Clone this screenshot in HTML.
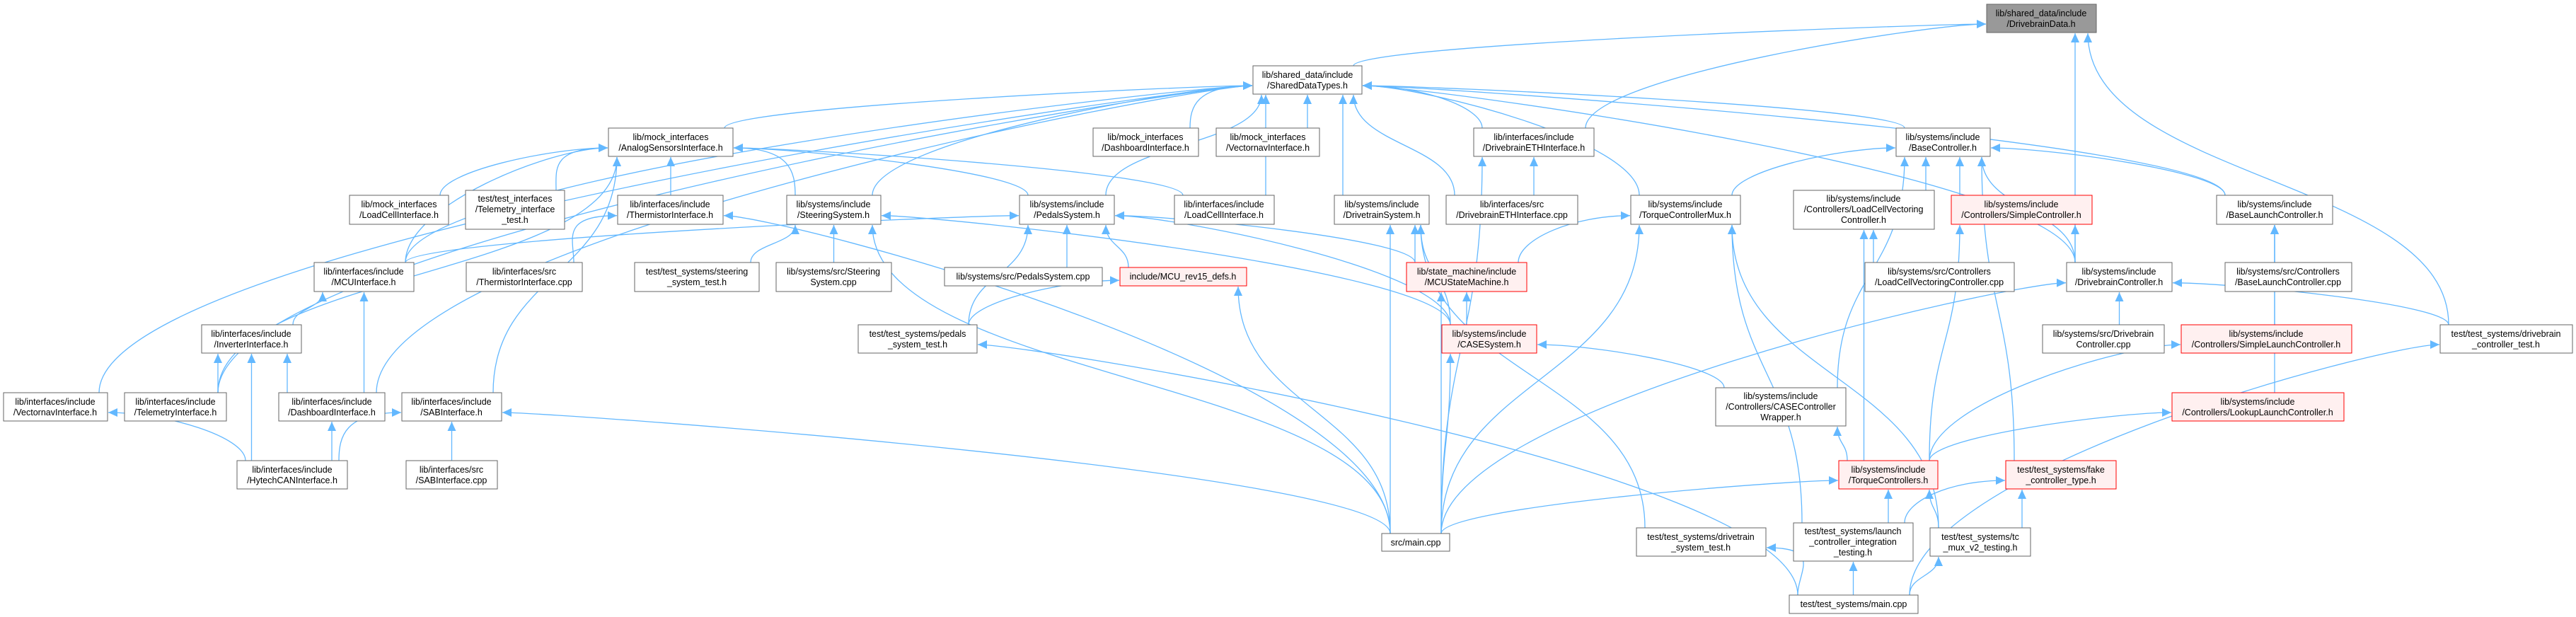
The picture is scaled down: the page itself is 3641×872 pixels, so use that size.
<!DOCTYPE html>
<html><head><meta charset="utf-8"><style>
html,body{margin:0;padding:0;background:#fff;}
svg{display:block}
text{font-family:"Liberation Sans",Arial,sans-serif;font-size:12.5px;fill:#000;text-anchor:middle}
</style></head><body>
<svg id="s" width="3641" height="872" viewBox="0 0 3641 872" xmlns="http://www.w3.org/2000/svg">
<defs><marker id="a" markerUnits="userSpaceOnUse" markerWidth="14" markerHeight="12" refX="13" refY="6" orient="auto"><path d="M0,0 L13,6 L0,12 z" fill="#63b8ff"/></marker></defs>
<g id="edges" fill="none" stroke="#63b8ff" stroke-width="1.3"></g>
<g id="nodes">
<g id="dd"><rect x="2808" y="6" width="155" height="40" fill="#999" stroke="#666"/><text x="2885" y="23">lib/shared_data/include</text><text x="2885" y="38">/DrivebrainData.h</text></g>
<g id="sdt"><rect x="1771" y="93" width="154" height="40" fill="#fff" stroke="#666"/><text x="1848" y="110">lib/shared_data/include</text><text x="1848" y="125">/SharedDataTypes.h</text></g>
<g id="asi"><rect x="860" y="181" width="176" height="40" fill="#fff" stroke="#666"/><text x="948" y="198">lib/mock_interfaces</text><text x="948" y="213">/AnalogSensorsInterface.h</text></g>
<g id="mdash"><rect x="1545" y="181" width="149" height="40" fill="#fff" stroke="#666"/><text x="1619" y="198">lib/mock_interfaces</text><text x="1619" y="213">/DashboardInterface.h</text></g>
<g id="mvec"><rect x="1719" y="181" width="146" height="40" fill="#fff" stroke="#666"/><text x="1792" y="198">lib/mock_interfaces</text><text x="1792" y="213">/VectornavInterface.h</text></g>
<g id="ethh"><rect x="2083" y="181" width="170" height="40" fill="#fff" stroke="#666"/><text x="2168" y="198">lib/interfaces/include</text><text x="2168" y="213">/DrivebrainETHInterface.h</text></g>
<g id="bc"><rect x="2680" y="181" width="133" height="40" fill="#fff" stroke="#666"/><text x="2746" y="198">lib/systems/include</text><text x="2746" y="213">/BaseController.h</text></g>
<g id="mlc"><rect x="494" y="276" width="140" height="41" fill="#fff" stroke="#666"/><text x="564" y="293">lib/mock_interfaces</text><text x="564" y="308">/LoadCellInterface.h</text></g>
<g id="tit"><rect x="658" y="269" width="140" height="55" fill="#fff" stroke="#666"/><text x="728" y="285">test/test_interfaces</text><text x="728" y="300">/Telemetry_interface</text><text x="728" y="315">_test.h</text></g>
<g id="th"><rect x="873" y="276" width="149" height="41" fill="#fff" stroke="#666"/><text x="947" y="293">lib/interfaces/include</text><text x="947" y="308">/ThermistorInterface.h</text></g>
<g id="ss"><rect x="1112" y="276" width="133" height="41" fill="#fff" stroke="#666"/><text x="1178" y="293">lib/systems/include</text><text x="1178" y="308">/SteeringSystem.h</text></g>
<g id="ps"><rect x="1441" y="276" width="134" height="41" fill="#fff" stroke="#666"/><text x="1508" y="293">lib/systems/include</text><text x="1508" y="308">/PedalsSystem.h</text></g>
<g id="lci"><rect x="1660" y="276" width="141" height="41" fill="#fff" stroke="#666"/><text x="1730" y="293">lib/interfaces/include</text><text x="1730" y="308">/LoadCellInterface.h</text></g>
<g id="dts"><rect x="1886" y="276" width="134" height="41" fill="#fff" stroke="#666"/><text x="1953" y="293">lib/systems/include</text><text x="1953" y="308">/DrivetrainSystem.h</text></g>
<g id="ethc"><rect x="2044" y="276" width="186" height="41" fill="#fff" stroke="#666"/><text x="2137" y="293">lib/interfaces/src</text><text x="2137" y="308">/DrivebrainETHInterface.cpp</text></g>
<g id="tcm"><rect x="2305" y="276" width="155" height="41" fill="#fff" stroke="#666"/><text x="2382" y="293">lib/systems/include</text><text x="2382" y="308">/TorqueControllerMux.h</text></g>
<g id="lcv"><rect x="2535" y="269" width="199" height="55" fill="#fff" stroke="#666"/><text x="2634" y="285">lib/systems/include</text><text x="2634" y="300">/Controllers/LoadCellVectoring</text><text x="2634" y="315">Controller.h</text></g>
<g id="sc"><rect x="2758" y="276" width="199" height="41" fill="#fff0f0" stroke="#f00"/><text x="2857" y="293">lib/systems/include</text><text x="2857" y="308">/Controllers/SimpleController.h</text></g>
<g id="blc"><rect x="3133" y="276" width="164" height="41" fill="#fff" stroke="#666"/><text x="3215" y="293">lib/systems/include</text><text x="3215" y="308">/BaseLaunchController.h</text></g>
<g id="mcu"><rect x="444" y="371" width="141" height="41" fill="#fff" stroke="#666"/><text x="514" y="388">lib/interfaces/include</text><text x="514" y="403">/MCUInterface.h</text></g>
<g id="thc"><rect x="659" y="371" width="164" height="41" fill="#fff" stroke="#666"/><text x="741" y="388">lib/interfaces/src</text><text x="741" y="403">/ThermistorInterface.cpp</text></g>
<g id="sst"><rect x="897" y="371" width="176" height="41" fill="#fff" stroke="#666"/><text x="985" y="388">test/test_systems/steering</text><text x="985" y="403">_system_test.h</text></g>
<g id="ssc"><rect x="1097" y="371" width="163" height="41" fill="#fff" stroke="#666"/><text x="1178" y="388">lib/systems/src/Steering</text><text x="1178" y="403">System.cpp</text></g>
<g id="psc"><rect x="1335" y="378" width="223" height="26" fill="#fff" stroke="#666"/><text x="1446" y="395">lib/systems/src/PedalsSystem.cpp</text></g>
<g id="mcudefs"><rect x="1583" y="378" width="179" height="26" fill="#fff0f0" stroke="#f00"/><text x="1672" y="395">include/MCU_rev15_defs.h</text></g>
<g id="msm"><rect x="1988" y="371" width="170" height="41" fill="#fff0f0" stroke="#f00"/><text x="2073" y="388">lib/state_machine/include</text><text x="2073" y="403">/MCUStateMachine.h</text></g>
<g id="lcvc"><rect x="2636" y="371" width="211" height="41" fill="#fff" stroke="#666"/><text x="2741" y="388">lib/systems/src/Controllers</text><text x="2741" y="403">/LoadCellVectoringController.cpp</text></g>
<g id="dbc"><rect x="2921" y="371" width="149" height="41" fill="#fff" stroke="#666"/><text x="2995" y="388">lib/systems/include</text><text x="2995" y="403">/DrivebrainController.h</text></g>
<g id="blcc"><rect x="3145" y="371" width="179" height="41" fill="#fff" stroke="#666"/><text x="3234" y="388">lib/systems/src/Controllers</text><text x="3234" y="403">/BaseLaunchController.cpp</text></g>
<g id="inv"><rect x="285" y="459" width="141" height="40" fill="#fff" stroke="#666"/><text x="355" y="476">lib/interfaces/include</text><text x="355" y="491">/InverterInterface.h</text></g>
<g id="pst"><rect x="1213" y="459" width="168" height="40" fill="#fff" stroke="#666"/><text x="1297" y="476">test/test_systems/pedals</text><text x="1297" y="491">_system_test.h</text></g>
<g id="case"><rect x="2038" y="459" width="134" height="40" fill="#fff0f0" stroke="#f00"/><text x="2105" y="476">lib/systems/include</text><text x="2105" y="491">/CASESystem.h</text></g>
<g id="dbcc"><rect x="2887" y="459" width="172" height="40" fill="#fff" stroke="#666"/><text x="2973" y="476">lib/systems/src/Drivebrain</text><text x="2973" y="491">Controller.cpp</text></g>
<g id="slc"><rect x="3083" y="459" width="241" height="40" fill="#fff0f0" stroke="#f00"/><text x="3203" y="476">lib/systems/include</text><text x="3203" y="491">/Controllers/SimpleLaunchController.h</text></g>
<g id="dbct"><rect x="3449" y="459" width="187" height="40" fill="#fff" stroke="#666"/><text x="3542" y="476">test/test_systems/drivebrain</text><text x="3542" y="491">_controller_test.h</text></g>
<g id="vec"><rect x="5" y="555" width="147" height="40" fill="#fff" stroke="#666"/><text x="78" y="572">lib/interfaces/include</text><text x="78" y="587">/VectornavInterface.h</text></g>
<g id="tel"><rect x="176" y="555" width="144" height="40" fill="#fff" stroke="#666"/><text x="248" y="572">lib/interfaces/include</text><text x="248" y="587">/TelemetryInterface.h</text></g>
<g id="dash"><rect x="394" y="555" width="150" height="40" fill="#fff" stroke="#666"/><text x="469" y="572">lib/interfaces/include</text><text x="469" y="587">/DashboardInterface.h</text></g>
<g id="sab"><rect x="568" y="555" width="141" height="40" fill="#fff" stroke="#666"/><text x="638" y="572">lib/interfaces/include</text><text x="638" y="587">/SABInterface.h</text></g>
<g id="ccw"><rect x="2425" y="548" width="184" height="54" fill="#fff" stroke="#666"/><text x="2517" y="564">lib/systems/include</text><text x="2517" y="579">/Controllers/CASEController</text><text x="2517" y="594">Wrapper.h</text></g>
<g id="llc"><rect x="3070" y="555" width="243" height="40" fill="#fff0f0" stroke="#f00"/><text x="3191" y="572">lib/systems/include</text><text x="3191" y="587">/Controllers/LookupLaunchController.h</text></g>
<g id="hcan"><rect x="335" y="651" width="156" height="40" fill="#fff" stroke="#666"/><text x="413" y="668">lib/interfaces/include</text><text x="413" y="683">/HytechCANInterface.h</text></g>
<g id="sabc"><rect x="574" y="651" width="129" height="40" fill="#fff" stroke="#666"/><text x="638" y="668">lib/interfaces/src</text><text x="638" y="683">/SABInterface.cpp</text></g>
<g id="tcs"><rect x="2599" y="651" width="140" height="40" fill="#fff0f0" stroke="#f00"/><text x="2669" y="668">lib/systems/include</text><text x="2669" y="683">/TorqueControllers.h</text></g>
<g id="fake"><rect x="2835" y="651" width="156" height="40" fill="#fff0f0" stroke="#f00"/><text x="2913" y="668">test/test_systems/fake</text><text x="2913" y="683">_controller_type.h</text></g>
<g id="dtst"><rect x="2313" y="746" width="183" height="40" fill="#fff" stroke="#666"/><text x="2404" y="763">test/test_systems/drivetrain</text><text x="2404" y="778">_system_test.h</text></g>
<g id="lcit"><rect x="2535" y="739" width="169" height="54" fill="#fff" stroke="#666"/><text x="2619" y="755">test/test_systems/launch</text><text x="2619" y="770">_controller_integration</text><text x="2619" y="785">_testing.h</text></g>
<g id="tcmux"><rect x="2728" y="746" width="142" height="40" fill="#fff" stroke="#666"/><text x="2799" y="763">test/test_systems/tc</text><text x="2799" y="778">_mux_v2_testing.h</text></g>
<g id="main"><rect x="1953" y="754" width="96" height="25" fill="#fff" stroke="#666"/><text x="2001" y="771">src/main.cpp</text></g>
<g id="tmain"><rect x="2529" y="841" width="182" height="26" fill="#fff" stroke="#666"/><text x="2620" y="858">test/test_systems/main.cpp</text></g>
</g>
</svg>
<script>
(function(){
var E=[["sdt","dd"],["ethh","dd"],["dbc","dd"],["dbct","dd"],
["vec","sdt"],["tel","sdt"],["dash","sdt"],["mcu","sdt"],["asi","sdt"],["ss","sdt"],["ps","sdt"],["mdash","sdt"],["mvec","sdt"],["lci","sdt"],["dts","sdt"],["ethc","sdt"],["ethh","sdt"],["tcm","sdt"],["bc","sdt"],["dbc","sdt"],["blc","sdt"],
["mlc","asi"],["tit","asi"],["th","asi"],["ss","asi"],["ps","asi"],["lci","asi"],["sab","asi"],["tel","asi"],["mcu","asi"],
["thc","th"],["main","th"],["sst","ss"],["ssc","ss"],["main","ss"],["case","ss"],
["psc","ps"],["mcudefs","ps"],["pst","ps"],["msm","ps"],["case","ps"],["mcu","ps"],
["pst","mcudefs"],["main","mcudefs"],["inv","mcu"],["dash","mcu"],["tel","inv"],["dash","inv"],["hcan","inv"],
["hcan","vec"],["hcan","dash"],["hcan","sab"],["sabc","sab"],["main","sab"],
["main","dts"],["msm","dts"],["case","dts"],["dtst","dts"],["ethc","ethh"],["main","ethh"],
["msm","tcm"],["main","tcm"],["lcit","tcm"],["tcmux","tcm"],["main","msm"],["case","msm"],["main","case"],["ccw","case"],
["tcm","bc"],["lcv","bc"],["sc","bc"],["ccw","bc"],["dbc","bc"],["blc","bc"],["fake","bc"],
["lcvc","lcv"],["tcs","lcv"],["tcs","sc"],["dbc","sc"],["dbcc","dbc"],["main","dbc"],["dbct","dbc"],["tcs","ccw"],
["main","tcs"],["lcit","tcs"],["tcmux","tcs"],["lcit","fake"],["tcmux","fake"],
["blcc","blc"],["slc","blc"],["llc","blc"],["tcs","slc"],["tcs","llc"],
["tmain","dtst"],["tmain","lcit"],["tmain","tcmux"],["tmain","pst"],["tmain","dbct"]];
function B(id){var r=document.querySelector("#"+id+" rect");var x=+r.getAttribute("x"),y=+r.getAttribute("y"),w=+r.getAttribute("width"),h=+r.getAttribute("height");return{x:x,y:y,w:w,h:h,cx:x+w/2,cy:y+h/2};}
function cl(v,a,b){return Math.max(a,Math.min(b,v));}
var g=document.getElementById("edges"),ns="http://www.w3.org/2000/svg";
E.forEach(function(e){var S=B(e[0]),T=B(e[1]);
var sx=cl(T.cx,S.x+12,S.x+S.w-12),sy=S.y;var dy=S.y-(T.y+T.h);var d;
if(dy>0&&Math.abs(T.cx-sx)<dy*2.2){var tx=cl(sx,T.x+12,T.x+T.w-12),ty=T.y+T.h+1;
d="M"+sx+","+sy+" C"+sx+","+(sy-dy/2)+" "+tx+","+(ty+dy/2)+" "+tx+","+ty;}
else{var left=sx<T.cx;var tx=left?T.x-1:T.x+T.w+1;var ty=T.y+T.h*0.7;
var c=left?-80:80;d="M"+sx+","+sy+" C"+sx+","+(sy-Math.max(30,(sy-ty)/2))+" "+(tx+c)+","+ty+" "+tx+","+ty;}
var p=document.createElementNS(ns,"path");p.setAttribute("d",d);p.setAttribute("marker-end","url(#a)");g.appendChild(p);});
})();
</script>
</body></html>
